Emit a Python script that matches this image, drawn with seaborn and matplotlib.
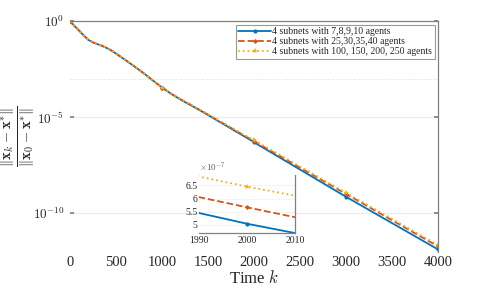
import numpy as np
import pandas as pd
import matplotlib
matplotlib.use("Agg")
import matplotlib.pyplot as plt
import seaborn as sns
from matplotlib.ticker import FixedLocator, FuncFormatter, NullFormatter

sns.set_theme(style="white")
plt.rcParams["font.family"] = ["Liberation Serif", "DejaVu Serif"]
plt.rcParams["mathtext.fontset"] = "cm"

# ---- data (log10 of relative error) ----
k = [0, 50, 100, 150, 200, 250, 300, 350, 400, 450, 500, 600, 700, 800, 900, 1000,
     1100, 1200, 1300, 1400, 1500, 1990, 2000, 2010, 2500, 3000, 3500, 4000]
log_err_small = [0, -0.25, -0.49, -0.74, -0.97, -1.10, -1.19, -1.28, -1.39, -1.52,
                 -1.68, -2.01, -2.35, -2.70, -3.08, -3.45, -3.78, -4.07, -4.34, -4.60,
                 -4.88, -6.264, -6.298, -6.330, -7.72, -9.14, -10.51, -11.88]
log_err_medium = [0, -0.25, -0.49, -0.74, -0.97, -1.10, -1.19, -1.28, -1.39, -1.52,
                  -1.68, -2.01, -2.35, -2.70, -3.08, -3.45, -3.77, -4.06, -4.32, -4.59,
                  -4.86, -6.218, -6.247, -6.277, -7.62, -8.99, -10.36, -11.72]
log_err_large = [0, -0.25, -0.49, -0.74, -0.97, -1.10, -1.19, -1.28, -1.39, -1.52,
                 -1.68, -2.01, -2.35, -2.70, -3.08, -3.45, -3.76, -4.05, -4.31, -4.57,
                 -4.84, -6.165, -6.190, -6.214, -7.56, -8.93, -10.29, -11.65]
labels = ["4 subnets with 7,8,9,10 agents",
          "4 subnets with 25,30,35,40 agents",
          "4 subnets with 100, 150, 200, 250 agents"]
x_ticks = [0, 500, 1000, 1500, 2000, 2500, 3000, 3500, 4000]
y_ticks = [1e-10, 1e-5, 1e0]
inset_x_ticks = [1990, 2000, 2010]
inset_y_ticks = [5e-7, 5.5e-7, 6e-7, 6.5e-7]

colors = ["#0072BD", "#D95319", "#EDB120"]
styles = ["-", "--", ":"]
markers = ["o", "D", "*"]
msizes = [3, 2.6, 4]

series = [log_err_small, log_err_medium, log_err_large]
frames = [pd.DataFrame({"k": k, "err": np.power(10.0, s)}) for s in series]
mark_idx = [i for i, kk in enumerate(k) if kk % 1000 == 0]

fig = plt.figure(figsize=(4.85, 2.89), dpi=100)
ax = fig.add_axes([70 / 485, 1 - 251.7 / 289, (438 - 70) / 485, (251.7 - 21.3) / 289])

for df, c, ls, mk, ms, lab in zip(frames, colors, styles, markers, msizes, labels):
    sns.lineplot(data=df, x="k", y="err", ax=ax, color=c, linestyle=ls, linewidth=1.3,
                 marker=mk, markersize=ms, markevery=mark_idx, markeredgewidth=0,
                 label=lab, legend=False)

ax.set_yscale("log")
ax.set_xlim(0, 4000)
ax.set_ylim(1e-12, 1.0)
ax.yaxis.set_major_locator(FixedLocator(y_ticks))
ax.yaxis.set_minor_locator(FixedLocator([1e-3]))
ax.yaxis.set_minor_formatter(NullFormatter())
ax.set_yticklabels([r"$10^{-10}$", r"$10^{-5}$", r"$10^{0}$"], fontsize=9.5)
ax.set_xticks(x_ticks)
ax.set_xticklabels([str(v) for v in x_ticks], fontsize=10.5)
ax.tick_params(axis="x", length=0, pad=3)
ax.tick_params(axis="y", which="major", direction="in", length=3, color="0.5",
               left=True, right=True, pad=4)
ax.tick_params(axis="y", which="minor", length=0)
ax.grid(axis="y", which="major", color="#ebebeb", linewidth=0.8, linestyle="-")
ax.grid(axis="y", which="minor", color="#dcdcdc", linewidth=0.7, linestyle=":")
ax.grid(axis="x", visible=False)
for side in ["left", "bottom"]:
    ax.spines[side].set_visible(False)
for side in ["top", "right"]:
    ax.spines[side].set_visible(True)
    ax.spines[side].set_color("0.5")
    ax.spines[side].set_linewidth(0.9)

ax.set_xlabel(r"Time $k$", fontsize=12, labelpad=1)
ax.set_ylabel("")
fig.text(18 / 485, 1 - 136 / 289,
         r"$\frac{\|\mathbf{x}_k-\mathbf{x}^{*}\|}{\|\mathbf{x}_0-\mathbf{x}^{*}\|}$",
         fontsize=15, rotation=90, ha="center", va="center")

leg = ax.legend(loc="upper right", fontsize=7, frameon=True, fancybox=False,
                edgecolor="0.5", borderaxespad=0.35, handlelength=3.4,
                handletextpad=0.1, borderpad=0.25, labelspacing=0.1)
leg.get_frame().set_linewidth(0.8)

# ---- inset ----
ins = fig.add_axes([199 / 485, 1 - 233 / 289, 96 / 485, 58 / 289])
for df, c, ls, mk, ms in zip(frames, colors, styles, markers, msizes):
    sns.lineplot(data=df, x="k", y="err", ax=ins, color=c, linestyle=ls, linewidth=1.3,
                 marker=mk, markersize=ms, markevery=mark_idx, markeredgewidth=0,
                 legend=False)
ins.set_xlim(1990, 2010)
ins.set_ylim(4.68e-7, 6.9e-7)
ins.set_xticks(inset_x_ticks)
ins.set_xticklabels([str(v) for v in inset_x_ticks], fontsize=7)
ins.yaxis.set_major_locator(FixedLocator(inset_y_ticks))
ins.yaxis.set_major_formatter(FuncFormatter(lambda v, p: f"{v * 1e7:g}"))
ins.tick_params(axis="y", labelsize=7, length=2, direction="in", color="0.5", pad=1)
ins.tick_params(axis="x", length=0, pad=2)
ins.set_xlabel("")
ins.set_ylabel("")
ins.grid(axis="y", color="#dddddd", linewidth=0.6, linestyle=":")
ins.grid(axis="x", visible=False)
for side in ["left", "top"]:
    ins.spines[side].set_visible(False)
for side in ["right", "bottom"]:
    ins.spines[side].set_visible(True)
    ins.spines[side].set_color("0.5")
    ins.spines[side].set_linewidth(0.9)
ins.text(0.0, 1.01, r"$\times10^{-7}$", transform=ins.transAxes, fontsize=6.5,
         ha="left", va="bottom", color="0.35")

fig.savefig("out.png", dpi=100)
